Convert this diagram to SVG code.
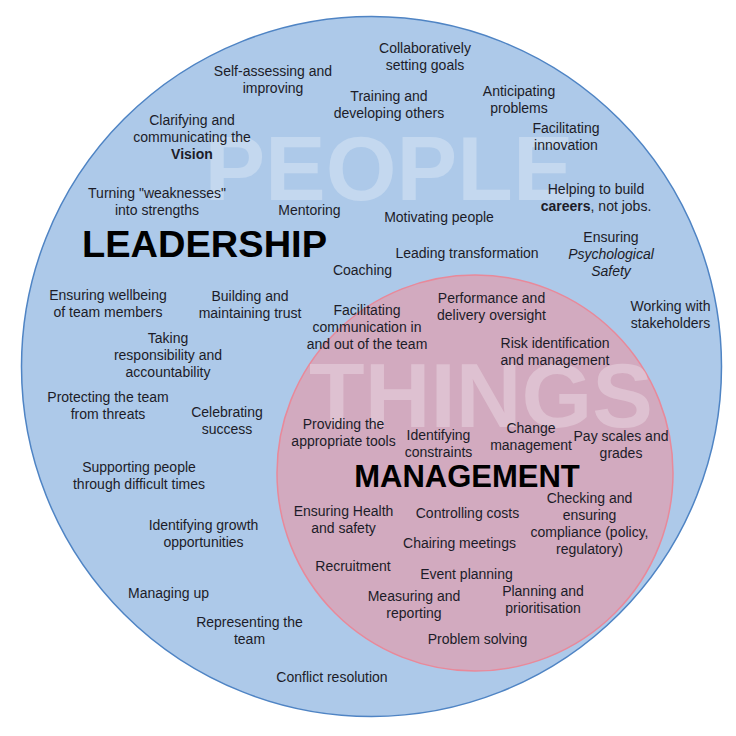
<svg xmlns="http://www.w3.org/2000/svg" width="736" height="736" viewBox="0 0 736 736">
<style>
text{font-family:"Liberation Sans",Arial,sans-serif;fill:#1c1c28;text-anchor:middle}
.t{font-size:14px}
.big{font-weight:bold;fill:#000}
.wm{font-weight:bold;font-size:91px;fill:#ffffff;fill-opacity:0.28}
.b{font-weight:bold}
.i{font-style:italic}
</style>
<rect width="736" height="736" fill="#ffffff"/>
<g id="people-circle">
<circle cx="371.5" cy="366.5" r="350" fill="#adc9e9" stroke="#4f84c4" stroke-width="1.5"/>
</g>
<g id="things-circle">
<circle cx="475" cy="473" r="198" fill="#d2aabf" stroke="#e8899a" stroke-width="1.5"/>
</g>
<g id="watermarks">
<text class="wm" x="389" y="200">PEOPLE</text>
<text class="wm" x="481" y="427">THINGS</text>
</g>
<g id="headings">
<text class="big" x="204.5" y="257" font-size="36" textLength="245" lengthAdjust="spacingAndGlyphs">LEADERSHIP</text>
<text class="big" x="467" y="487" font-size="31">MANAGEMENT</text>
</g>
<g id="leadership-items" class="t">
<g id="n-collab"><text class="t" x="425" y="53">Collaboratively</text><text class="t" x="425" y="70">setting goals</text></g>
<g id="n-selfassess"><text class="t" x="273" y="76">Self-assessing and</text><text class="t" x="273" y="93">improving</text></g>
<g id="n-training"><text class="t" x="389" y="101">Training and</text><text class="t" x="389" y="118">developing others</text></g>
<g id="n-anticipating"><text class="t" x="519" y="96">Anticipating</text><text class="t" x="519" y="113">problems</text></g>
<g id="n-innovation"><text class="t" x="566" y="133">Facilitating</text><text class="t" x="566" y="150">innovation</text></g>
<g id="n-vision"><text class="t" x="192" y="125">Clarifying and</text><text class="t" x="192" y="142">communicating the</text><text class="t b" x="192" y="159">Vision</text></g>
<g id="n-weaknesses"><text class="t" x="157" y="198">Turning "weaknesses"</text><text class="t" x="157" y="215">into strengths</text></g>
<g id="n-mentoring"><text class="t" x="309.5" y="215">Mentoring</text></g>
<g id="n-motivating"><text class="t" x="439" y="222">Motivating people</text></g>
<g id="n-careers"><text class="t" x="596" y="194">Helping to build</text><text class="t" x="596" y="211"><tspan class="b">careers</tspan>, not jobs.</text></g>
<g id="n-psych"><text class="t" x="611" y="242">Ensuring</text><text class="t i" x="611" y="259">Psychological</text><text class="t i" x="611" y="276">Safety</text></g>
<g id="n-leading"><text class="t" x="467" y="258">Leading transformation</text></g>
<g id="n-coaching"><text class="t" x="362.5" y="275">Coaching</text></g>
<g id="n-wellbeing"><text class="t" x="108" y="300">Ensuring wellbeing</text><text class="t" x="108" y="317">of team members</text></g>
<g id="n-trust"><text class="t" x="250" y="301">Building and</text><text class="t" x="250" y="318">maintaining trust</text></g>
<g id="n-communication"><text class="t" x="367" y="315">Facilitating</text><text class="t" x="367" y="332">communication in</text><text class="t" x="367" y="349">and out of the team</text></g>
<g id="n-stakeholders"><text class="t" x="670.5" y="311">Working with</text><text class="t" x="670.5" y="328">stakeholders</text></g>
<g id="n-responsibility"><text class="t" x="168" y="343">Taking</text><text class="t" x="168" y="360">responsibility and</text><text class="t" x="168" y="377">accountability</text></g>
<g id="n-protecting"><text class="t" x="108" y="402">Protecting the team</text><text class="t" x="108" y="419">from threats</text></g>
<g id="n-celebrating"><text class="t" x="227" y="417">Celebrating</text><text class="t" x="227" y="434">success</text></g>
<g id="n-supporting"><text class="t" x="139" y="472">Supporting people</text><text class="t" x="139" y="489">through difficult times</text></g>
<g id="n-growth"><text class="t" x="203.5" y="530">Identifying growth</text><text class="t" x="203.5" y="547">opportunities</text></g>
<g id="n-managingup"><text class="t" x="168.5" y="598">Managing up</text></g>
<g id="n-representing"><text class="t" x="249.5" y="627">Representing the</text><text class="t" x="249.5" y="644">team</text></g>
<g id="n-conflict"><text class="t" x="332" y="682">Conflict resolution</text></g>
</g>
<g id="management-items">
<g id="n-performance"><text class="t" x="491.5" y="303">Performance and</text><text class="t" x="491.5" y="320">delivery oversight</text></g>
<g id="n-risk"><text class="t" x="555" y="348">Risk identification</text><text class="t" x="555" y="365">and management</text></g>
<g id="n-tools"><text class="t" x="343.5" y="429">Providing the</text><text class="t" x="343.5" y="446">appropriate tools</text></g>
<g id="n-constraints"><text class="t" x="438.5" y="440">Identifying</text><text class="t" x="438.5" y="457">constraints</text></g>
<g id="n-change"><text class="t" x="531" y="433">Change</text><text class="t" x="531" y="450">management</text></g>
<g id="n-pay"><text class="t" x="621" y="441">Pay scales and</text><text class="t" x="621" y="458">grades</text></g>
<g id="n-health"><text class="t" x="343.5" y="516">Ensuring Health</text><text class="t" x="343.5" y="533">and safety</text></g>
<g id="n-costs"><text class="t" x="467.5" y="518">Controlling costs</text></g>
<g id="n-compliance"><text class="t" x="589.5" y="503">Checking and</text><text class="t" x="589.5" y="520">ensuring</text><text class="t" x="589.5" y="537">compliance (policy,</text><text class="t" x="589.5" y="554">regulatory)</text></g>
<g id="n-chairing"><text class="t" x="459.5" y="548">Chairing meetings</text></g>
<g id="n-recruitment"><text class="t" x="353" y="571">Recruitment</text></g>
<g id="n-event"><text class="t" x="466.5" y="579">Event planning</text></g>
<g id="n-measuring"><text class="t" x="414" y="601">Measuring and</text><text class="t" x="414" y="618">reporting</text></g>
<g id="n-planning"><text class="t" x="543" y="596">Planning and</text><text class="t" x="543" y="613">prioritisation</text></g>
<g id="n-problem"><text class="t" x="477.5" y="644">Problem solving</text></g>
</g>
<g id="connectors"></g>
</svg>
